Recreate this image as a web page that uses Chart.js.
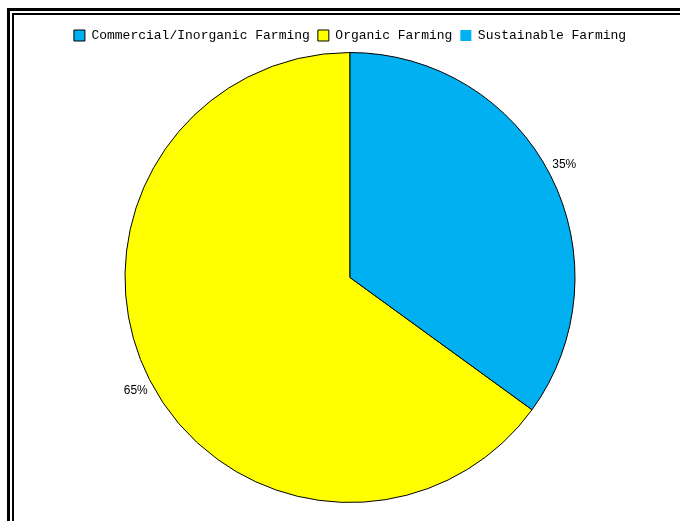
<!DOCTYPE html>
<html>
<head>
<meta charset="utf-8">
<script src="https://cdn.jsdelivr.net/npm/chart.js@4"></script>
<style>
html, body { margin: 0; padding: 0; background: #fff; }
.wrap { position: relative; width: 680px; height: 521px; overflow: hidden; }
.frame-outer { position: absolute; left: 7px; top: 8px; width: 700px; height: 540px; border-left: 3px solid #000; border-top: 3px solid #000; }
.frame-inner { position: absolute; left: 12px; top: 13px; width: 700px; height: 540px; border-left: 2px solid #000; border-top: 2px solid #000; }
canvas { position: absolute; left: 0; top: 0; }
</style>
</head>
<body>
<div class="wrap">
    <div class="frame-outer"></div>
    <div class="frame-inner"></div>
    <canvas id="farmChart" width="680" height="521"></canvas>
</div>
<script>
// Data
const categories = ['Commercial/Inorganic Farming', 'Organic Farming', 'Sustainable Farming'];
const shares = [0, 65, 35];
const sliceColors = ['#00B0F0', '#FFFF00', '#00B0F0'];

// start the pie so the slices run counter-clockwise from 12 o'clock like the original
const total = shares.reduce((a, b) => a + b, 0);
const startRotation = 360 * shares[2] / total;

// Percent labels outside the pie
const pctLabels = {
    id: 'pctLabels',
    afterDatasetsDraw(chart) {
        const ctx = chart.ctx;
        const meta = chart.getDatasetMeta(0);
        ctx.save();
        ctx.font = '12px "Liberation Sans"';
        ctx.fillStyle = '#000';
        ctx.textBaseline = 'middle';
        meta.data.forEach((arc, i) => {
            if (!shares[i]) return;
            const p = arc.getProps(['x', 'y', 'startAngle', 'endAngle', 'outerRadius'], true);
            const mid = (p.startAngle + p.endAngle) / 2;
            const dx = Math.cos(mid), dy = Math.sin(mid);
            ctx.textAlign = dx >= 0 ? 'left' : 'right';
            ctx.fillText(shares[i] + '%', p.x + (p.outerRadius + 2) * dx, p.y + (p.outerRadius + 24) * dy);
        });
        ctx.restore();
    }
};

new Chart(document.getElementById('farmChart'), {
    type: 'pie',
    data: {
        labels: categories,
        datasets: [{
            data: shares,
            backgroundColor: sliceColors,
            borderColor: '#000',
            borderWidth: 1
        }]
    },
    options: {
        responsive: false,
        animation: false,
        rotation: startRotation,
        layout: { padding: { top: 21, bottom: 18, left: 20, right: 0 } },
        plugins: {
            tooltip: { enabled: false },
            legend: {
                position: 'top',
                labels: {
                    color: '#000',
                    font: { family: 'Liberation Mono', size: 13 },
                    boxWidth: 11,
                    boxHeight: 11,
                    padding: 8,
                    generateLabels(chart) {
                        const items = Chart.overrides.pie.plugins.legend.labels.generateLabels(chart);
                        // last swatch has no outline in the original
                        items[items.length - 1].lineWidth = 0;
                        return items;
                    }
                }
            }
        }
    },
    plugins: [pctLabels]
});
</script>
</body>
</html>
